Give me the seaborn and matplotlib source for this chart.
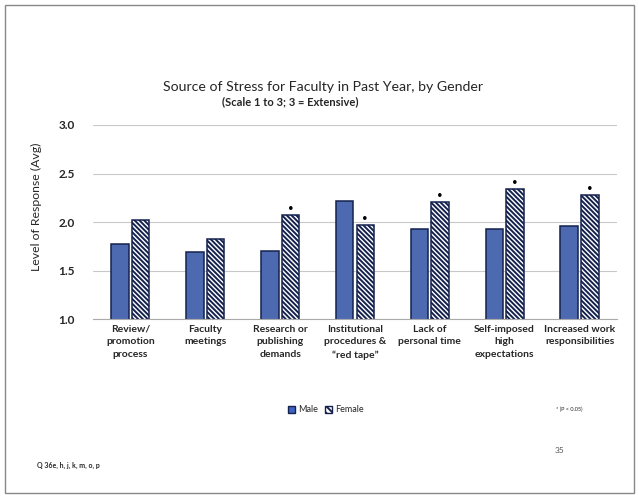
import seaborn as sns
import pandas as pd
import matplotlib.pyplot as plt
from matplotlib.patches import Patch, Rectangle

categories = ['Review/\npromotion\nprocess', 'Faculty\nmeetings', 'Research or\npublishing\ndemands',
              'Institutional\nprocedures &\n\u201cred tape\u201d', 'Lack of\npersonal time',
              'Self-imposed\nhigh\nexpectations', 'Increased work\nresponsibilities']
male = [1.77, 1.69, 1.70, 2.22, 1.93, 1.93, 1.96]
female = [2.02, 1.83, 2.07, 1.97, 2.21, 2.34, 2.28]
significant = [False, False, True, True, True, True, True]

df = pd.DataFrame({'Category': categories * 2,
                   'Gender': ['Male'] * 7 + ['Female'] * 7,
                   'Level': male + female})

sns.set_style('white')
plt.rcParams['font.family'] = ['Lato', 'DejaVu Sans']
plt.rcParams['hatch.color'] = '#4066c4'
plt.rcParams['hatch.linewidth'] = 1.4

fig = plt.figure(figsize=(6.39, 4.98), dpi=100)
ax = fig.add_axes([0.1455, 0.3594, 0.82, 0.3896])

male_col = '#3c63c2'
edge_col = '#14214d'
sns.barplot(data=df, x='Category', y='Level', hue='Gender', hue_order=['Male', 'Female'],
            palette={'Male': male_col, 'Female': 'white'}, width=0.55, gap=0.15,
            edgecolor=edge_col, linewidth=1.1, legend=False, ax=ax)

n = len(categories)
bars = [p for p in ax.patches if isinstance(p, Rectangle)]
female_bars = bars[n:2 * n]
for b in female_bars:
    b.set_hatch('\\' * 7)

# significance markers
for b, sig in zip(female_bars, significant):
    if sig:
        ax.text(b.get_x() + b.get_width() / 2, b.get_height() + 0.065, '\u2022',
                ha='center', va='center', fontsize=7, color='black')

ax.set_ylim(1.0, 3.0)
ax.set_yticks([1.0, 1.5, 2.0, 2.5, 3.0])
ax.set_yticklabels(['1.0', '1.5', '2.0', '2.5', '3.0'], fontsize=8.5, fontweight='bold')
ax.yaxis.grid(True, color='#c8c8c8', linewidth=0.8)
ax.set_axisbelow(True)
ax.tick_params(axis='x', labelsize=7.5, length=0, pad=4)
ax.tick_params(axis='y', length=0, pad=13)
for lbl in ax.get_xticklabels():
    lbl.set_fontweight('bold')
    lbl.set_linespacing(1.55)
ax.set_xlabel('')
ax.set_ylabel('Level of Response (Avg)', fontsize=8.8)
ax.yaxis.set_label_coords(-0.098, 0.58)
for s in ['top', 'right', 'left']:
    ax.spines[s].set_visible(False)
ax.spines['bottom'].set_color('#aaaaaa')
ax.set_xlim(-0.5, n - 0.5)

fig.text(0.505, 0.825, 'Source of Stress for Faculty in Past Year, by Gender', ha='center',
         va='center', fontsize=10.2)
fig.text(0.455, 0.795, '(Scale 1 to 3; 3 = Extensive)', ha='center', va='center',
         fontsize=8, fontweight='bold')

handles = [Patch(facecolor=male_col, edgecolor=edge_col, label='Male'),
           Patch(facecolor='white', edgecolor=edge_col, hatch='\\' * 5, label='Female')]
fig.legend(handles=handles, loc='center', bbox_to_anchor=(0.51, 0.177), ncol=2, frameon=False,
           fontsize=6.5, handlelength=0.8, handleheight=0.8, columnspacing=0.8, handletextpad=0.3)

fig.text(0.87, 0.177, '* (P < 0.05)', ha='left', va='center', fontsize=4)
fig.text(0.868, 0.096, '35', ha='left', va='center', fontsize=6, color='#555555')
fig.text(0.058, 0.066, 'Q 36e, h, j, k, m, o, p', ha='left', va='center', fontsize=5,
         fontweight='bold')

fig.patches.append(Rectangle((0.008, 0.01), 0.984, 0.98, transform=fig.transFigure,
                             fill=False, edgecolor='#888888', linewidth=1.0))

fig.savefig('out.png', dpi=100)
